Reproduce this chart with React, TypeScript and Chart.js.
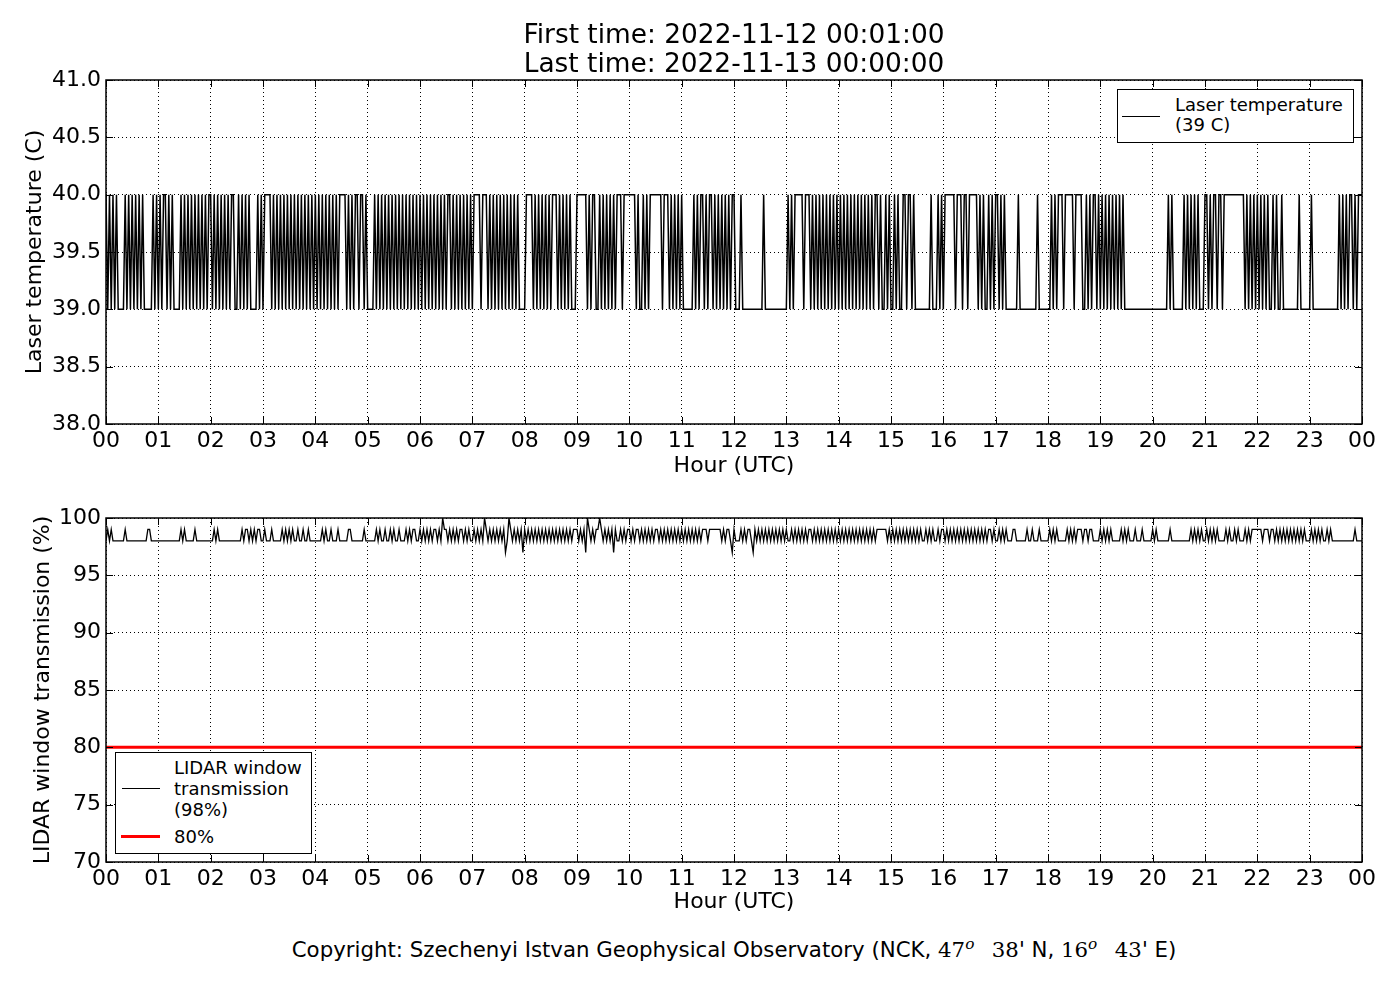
import React, { useEffect, useRef } from "react";
import { Chart, registerables } from "chart.js";

Chart.register(...registerables);

const FONT = "'DejaVu Sans', sans-serif";
Chart.defaults.font.family = FONT;
Chart.defaults.color = "#000";

// one string per hour, one char per ~2 minutes
// laser: 0 = 39 C, 1 = 40 C
const laserTempHours = [
  "101010100001010101010100000101",
  "010110101000010101010101010101",
  "101010101010110010101010000101",
  "011110101010101010101010101010",
  "101010101010101111010101101101",
  "000010101010101010101010101010",
  "101010101010101011010101010101",
  "011110111010101010101010101000",
  "011110101010101011101010101000",
  "111111010110010101010101110111",
  "111101001010111111101110101010",
  "100000010101101011010101010101",
  "100010000000000001000000000000",
  "010101111101110101010101010101",
  "010101010101010101010110100101",
  "001010011011010000000001000101",
  "011111101110110111110101001010",
  "110101000000010000000000100000",
  "001010111011111011110010101101",
  "010101010101010000000000000000",
  "000000000101000000101010101000",
  "110101101101111111111110101010",
  "101010100101001000000000100000",
  "010000000000000001010101101011",
];
const laserLevels: Record<string, number> = { "0": 39, "1": 40 };

// window transmission: 7 = 97, 8 = 98, 9 = 99, 0 = 100 (%)
const lidarTransHours = [
  "898988888889888888888888998888",
  "888888888888898988888988888888",
  "889898888888888888989989898998",
  "898889888889898989889889889888",
  "888898988988898888899888888898",
  "888889898898898988988898989988",
  "989898989989809989898989989898",
  "898989809898989898978098989897",
  "989898989898989898989898989899",
  "989897098989909898989798898989",
  "989899898989898998989898989898",
  "989898989898999899999998989987",
  "988898989987989898989898989898",
  "988989898989899898989898989898",
  "989898989898989898989899999989",
  "898989898989898989889898988989",
  "989898989898989898989898989989",
  "889898988899888888988988898888",
  "898989888889898989998998998888",
  "989898988888989898889888988888",
  "989888888898888888888898989898",
  "898989898888989889898889898999",
  "999899989989898989898989898988",
  "898989898898988888888888889888",
];
const lidarLevels: Record<string, number> = { "7": 97, "8": 98, "9": 99, "0": 100 };
const thresholdValue = 80;

const hourLabels = [
  "00", "01", "02", "03", "04", "05", "06", "07", "08", "09", "10", "11",
  "12", "13", "14", "15", "16", "17", "18", "19", "20", "21", "22", "23", "00",
];
const laserTicks = [38, 38.5, 39, 39.5, 40, 40.5, 41];
const lidarTicks = [70, 75, 80, 85, 90, 95, 100];

const titleLines = ["First time: 2022-11-12 00:01:00", "Last time: 2022-11-13 00:00:00"];
const laserLegend = ["Laser temperature", "(39 C)"];
const lidarLegend = ["LIDAR window", "transmission", "(98%)"];
const thresholdLegend = "80%";

type Pt = { x: number; y: number };

function hoursToPoints(hours: string[], levels: Record<string, number>): Pt[] {
  const pts: Pt[] = [];
  hours.forEach((row, h) => {
    for (let i = 0; i < row.length; i++) {
      pts.push({ x: h + i / row.length, y: levels[row[i]] });
    }
  });
  const last = hours[hours.length - 1];
  pts.push({ x: 24, y: levels[last[last.length - 1]] });
  return pts;
}

// matplotlib-style box around the plot with inward ticks on all four sides
const framePlugin = {
  id: "frame",
  afterDatasetsDraw(chart: any) {
    const { ctx, chartArea: a, scales } = chart;
    const len = 7;
    ctx.save();
    ctx.strokeStyle = "#000";
    ctx.lineWidth = 1;
    ctx.beginPath();
    scales.x.ticks.forEach((t: any) => {
      const px = Math.round(scales.x.getPixelForValue(t.value)) + 0.5;
      ctx.moveTo(px, a.bottom);
      ctx.lineTo(px, a.bottom - len);
      ctx.moveTo(px, a.top);
      ctx.lineTo(px, a.top + len);
    });
    scales.y.ticks.forEach((t: any) => {
      const py = Math.round(scales.y.getPixelForValue(t.value)) + 0.5;
      ctx.moveTo(a.left, py);
      ctx.lineTo(a.left + len, py);
      ctx.moveTo(a.right, py);
      ctx.lineTo(a.right - len, py);
    });
    ctx.stroke();
    ctx.lineWidth = 1.5;
    ctx.strokeRect(a.left, a.top, a.right - a.left, a.bottom - a.top);
    ctx.restore();
  },
};

type PanelProps = {
  top: number;
  height: number;
  padTop: number;
  datasets: any[];
  yTicks: number[];
  yFormat: (v: number) => string;
  yTitle: string;
  yTitlePad: number;
  xTitlePad: number;
};

const Panel = (p: PanelProps) => {
  const canvas = useRef<HTMLCanvasElement>(null);

  useEffect(() => {
    const chart = new Chart(canvas.current!, {
      type: "line",
      data: { datasets: p.datasets },
      options: {
        animation: false,
        responsive: false,
        devicePixelRatio: 1,
        layout: { padding: { top: p.padTop, right: 38, left: 0, bottom: 0 } },
        plugins: {
          legend: { display: false },
          tooltip: { enabled: false },
        },
        elements: { point: { radius: 0 }, line: { tension: 0 } },
        scales: {
          x: {
            type: "linear",
            min: 0,
            max: 24,
            afterBuildTicks: (axis: any) => {
              axis.ticks = hourLabels.map((_, i) => ({ value: i }));
            },
            afterFit: (axis: any) => {
              axis.height = 66;
              axis.paddingLeft = 0;
              axis.paddingRight = 0;
            },
            grid: { color: "#000", lineWidth: 1, drawTicks: false },
            border: { display: false, dash: [1, 3] },
            ticks: {
              color: "#000",
              font: { size: 22 },
              padding: 4,
              maxRotation: 0,
              autoSkip: false,
              callback: (v: any) => hourLabels[Math.round(Number(v))],
            },
            title: {
              display: true,
              text: "Hour (UTC)",
              color: "#000",
              font: { size: 22 },
              padding: { top: 0, bottom: p.xTitlePad },
            },
          },
          y: {
            type: "linear",
            min: p.yTicks[0],
            max: p.yTicks[p.yTicks.length - 1],
            afterBuildTicks: (axis: any) => {
              axis.ticks = p.yTicks.map((value) => ({ value }));
            },
            afterFit: (axis: any) => {
              axis.width = 106;
              axis.paddingTop = 0;
              axis.paddingBottom = 0;
            },
            grid: { color: "#000", lineWidth: 1, drawTicks: false },
            border: { display: false, dash: [1, 3] },
            ticks: {
              color: "#000",
              font: { size: 22 },
              padding: 5,
              callback: (v: any) => p.yFormat(Number(v)),
            },
            title: {
              display: true,
              text: p.yTitle,
              color: "#000",
              font: { size: 22 },
              padding: { top: p.yTitlePad, bottom: 0 },
            },
          },
        },
      } as any,
      plugins: [framePlugin],
    });
    return () => chart.destroy();
  }, []);

  return (
    <canvas
      ref={canvas}
      width={1400}
      height={p.height}
      style={{ position: "absolute", left: 0, top: p.top, width: 1400, height: p.height }}
    />
  );
};

const abs = (left: number, top: number, extra: React.CSSProperties = {}): React.CSSProperties => ({
  position: "absolute",
  left,
  top,
  ...extra,
});

export default function App() {
  const laserData = hoursToPoints(laserTempHours, laserLevels);
  const lidarData = hoursToPoints(lidarTransHours, lidarLevels);
  const thresholdData = [
    { x: 0, y: thresholdValue },
    { x: 24, y: thresholdValue },
  ];

  const laserSets = [
    { label: laserLegend.join(" "), data: laserData, borderColor: "#000", borderWidth: 1.5, pointRadius: 0 },
  ];
  const lidarSets = [
    { label: lidarLegend.join(" "), data: lidarData, borderColor: "#000", borderWidth: 1.3, pointRadius: 0 },
    { label: thresholdLegend, data: thresholdData, borderColor: "#ff0000", borderWidth: 3, pointRadius: 0 },
  ];

  const serif: React.CSSProperties = { fontFamily: "'DejaVu Serif', serif" };
  const sup: React.CSSProperties = {
    fontFamily: "'DejaVu Serif', serif",
    fontStyle: "italic",
    fontSize: "0.72em",
    position: "relative",
    top: "-0.55em",
  };

  return (
    <div
      style={{
        position: "absolute",
        left: 0,
        top: 0,
        width: 1400,
        height: 1000,
        background: "#fff",
        color: "#000",
        fontFamily: FONT,
        overflow: "hidden",
      }}
    >
      <Panel
        top={0}
        height={490}
        padTop={80}
        datasets={laserSets}
        yTicks={laserTicks}
        yFormat={(v) => v.toFixed(1)}
        yTitle="Laser temperature (C)"
        yTitlePad={22}
        xTitlePad={11}
      />
      <Panel
        top={490}
        height={438}
        padTop={28}
        datasets={lidarSets}
        yTicks={lidarTicks}
        yFormat={(v) => String(Math.round(v))}
        yTitle="LIDAR window transmission (%)"
        yTitlePad={30}
        xTitlePad={13}
      />

      {/* title */}
      <div style={abs(106, 19, { width: 1256, textAlign: "center", fontSize: 26.4, lineHeight: "29px" })}>
        {titleLines.map((t) => (
          <div key={t}>{t}</div>
        ))}
      </div>

      {/* top legend */}
      <div
        style={abs(1117, 89, {
          width: 237,
          height: 54,
          border: "1px solid #000",
          boxSizing: "border-box",
          background: "#fff",
        })}
      />
      <div style={abs(1122, 116, { width: 38, height: 0, borderTop: "1px solid #000" })} />
      <div style={abs(1175, 95, { fontSize: 18, lineHeight: "20px", whiteSpace: "nowrap" })}>
        {laserLegend.map((t) => (
          <div key={t}>{t}</div>
        ))}
      </div>

      {/* bottom legend */}
      <div
        style={abs(115, 752, {
          width: 197,
          height: 102,
          border: "1px solid #000",
          boxSizing: "border-box",
          background: "#fff",
        })}
      />
      <div style={abs(122, 788, { width: 38, height: 0, borderTop: "1px solid #000" })} />
      <div style={abs(174, 756.5, { fontSize: 18, lineHeight: "21px", whiteSpace: "nowrap" })}>
        {lidarLegend.map((t) => (
          <div key={t}>{t}</div>
        ))}
      </div>
      <div style={abs(121, 834.5, { width: 39, height: 3, background: "#ff0000" })} />
      <div style={abs(174, 825.5, { fontSize: 18, lineHeight: "21px" })}>{thresholdLegend}</div>

      {/* copyright */}
      <div style={abs(106, 937, { width: 1256, textAlign: "center", fontSize: 21.3, lineHeight: "26px", whiteSpace: "nowrap" })}>
        Copyright: Szechenyi Istvan Geophysical Observatory (NCK, <span style={serif}>47</span>
        <span style={sup}>o</span>
        <span style={serif}>{"\u2002 38"}</span>' N, <span style={serif}>16</span>
        <span style={sup}>o</span>
        <span style={serif}>{"\u2002 43"}</span>' E)
      </div>
    </div>
  );
}
